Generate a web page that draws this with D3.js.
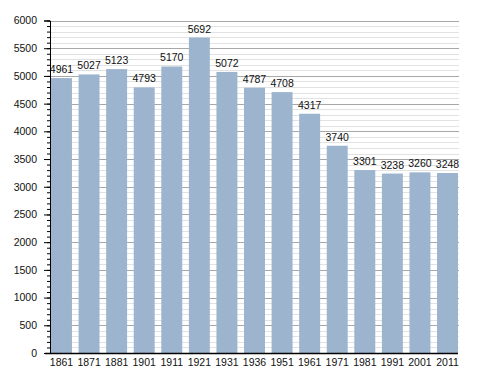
<!DOCTYPE html>
<html>
<head>
<meta charset="utf-8">
<script src="https://cdn.jsdelivr.net/npm/d3@7"></script>
<style>
  body { margin: 0; background: #fff; }
  text { font-family: "Liberation Sans", Arial, sans-serif; }
</style>
</head>
<body>
<div id="chart"></div>
<script>
// population by census year
const years = ["1861","1871","1881","1901","1911","1921","1931","1936","1951","1961","1971","1981","1991","2001","2011"];
const population = [4961,5027,5123,4793,5170,5692,5072,4787,4708,4317,3740,3301,3238,3260,3248];
const majorTicks = [0,500,1000,1500,2000,2500,3000,3500,4000,4500,5000,5500,6000];

const width = 488, height = 373;
const margin = {left: 50, right: 29, top: 20.5, bottom: 20};
const fontSize = "10.5px";

const svg = d3.select("#chart").append("svg")
  .attr("width", width)
  .attr("height", height);

const yScale = d3.scaleLinear()
  .domain([0, 6000])
  .range([height - margin.bottom, margin.top]);

const xScale = d3.scaleBand()
  .domain(years)
  .range([51, 458])
  .paddingInner(0.24)
  .paddingOuter(0);

// minor grid every 100
const minor = d3.range(0, 6001, 100).filter(v => v % 500 !== 0);
svg.append("g").selectAll("line")
  .data(minor)
  .enter().append("line")
    .attr("x1", margin.left).attr("x2", width - margin.right)
    .attr("y1", d => Math.round(yScale(d)) + 0.5)
    .attr("y2", d => Math.round(yScale(d)) + 0.5)
    .attr("stroke", "#e2e2e2");

// major grid every 500
svg.append("g").selectAll("line")
  .data(majorTicks.filter(v => v > 0))
  .enter().append("line")
    .attr("x1", margin.left).attr("x2", width - margin.right)
    .attr("y1", d => Math.round(yScale(d)) + 0.5)
    .attr("y2", d => Math.round(yScale(d)) + 0.5)
    .attr("stroke", "#a8a8a8");

// bars
svg.selectAll(".bar")
  .data(population)
  .enter().append("rect")
    .attr("class", "bar")
    .attr("x", (d, i) => xScale(years[i]))
    .attr("y", d => yScale(d))
    .attr("width", xScale.bandwidth())
    .attr("height", d => yScale(0) - yScale(d))
    .attr("fill", "#9db4cf");

// value labels
svg.selectAll(".val")
  .data(population)
  .enter().append("text")
    .attr("class", "val")
    .attr("x", (d, i) => xScale(years[i]) + xScale.bandwidth() / 2)
    .attr("y", d => yScale(d) - 5)
    .attr("text-anchor", "middle")
    .attr("font-size", fontSize)
    .attr("fill", "#111")
    .text(d => d);

// y axis
const yAxis = svg.append("g")
  .attr("transform", `translate(${margin.left},0)`);
yAxis.append("g")
  .call(d3.axisLeft(yScale).tickValues(d3.range(0, 6001, 100)).tickSize(3).tickFormat(""))
  .call(g => g.select(".domain").remove());
yAxis.append("g")
  .call(d3.axisLeft(yScale).tickValues(majorTicks).tickSize(6).tickPadding(7).tickFormat(d3.format("d")))
  .call(g => g.selectAll("text").attr("font-size", fontSize).attr("fill", "#111"));
yAxis.selectAll("line, path").attr("stroke", "#000");

// x axis
svg.append("g")
  .attr("transform", `translate(0,${yScale(0)})`)
  .call(d3.axisBottom(xScale).tickSize(0).tickPadding(6))
  .call(g => g.select(".domain").attr("d", `M45,0.5H458`).attr("stroke", "#000").attr("stroke-width", 1.5))
  .call(g => g.selectAll("text").attr("font-size", fontSize).attr("fill", "#111"));
</script>
</body>
</html>
